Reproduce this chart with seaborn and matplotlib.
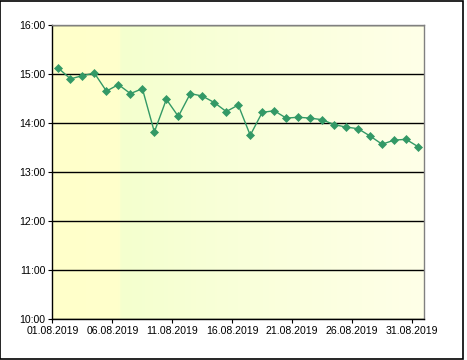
import numpy as np
import pandas as pd
import matplotlib
matplotlib.use("Agg")
import matplotlib.pyplot as plt
import matplotlib.dates as mdates
from matplotlib.colors import LinearSegmentedColormap
from matplotlib.patches import Rectangle
import seaborn as sns

# daily values (HH:MM), 01.08.2019 - 31.08.2019
days = pd.date_range("2019-08-01", "2019-08-31", freq="D")
times = ["15:07", "14:54", "14:58", "15:01", "14:39", "14:47", "14:36", "14:42",
         "13:49", "14:29", "14:08", "14:36", "14:33", "14:25", "14:14", "14:22",
         "13:45", "14:13", "14:15", "14:06", "14:07", "14:06", "14:04", "13:58",
         "13:55", "13:53", "13:44", "13:34", "13:39", "13:40", "13:31"]
x_tick_dates = ["2019-08-01", "2019-08-06", "2019-08-11", "2019-08-16",
                "2019-08-21", "2019-08-26", "2019-08-31"]
y_ticks = [10, 11, 12, 13, 14, 15, 16]

hours = [int(t.split(":")[0]) + int(t.split(":")[1]) / 60 for t in times]
df = pd.DataFrame({"date": days + pd.Timedelta(hours=12), "value": hours})

sns.set_style("white")
plt.rcParams["font.family"] = ["Liberation Sans", "DejaVu Sans"]

fig = plt.figure(figsize=(4.67, 3.6), dpi=100)
ax = fig.add_axes([0.1124, 0.1139, 0.7956, 0.8167])

x0 = mdates.date2num(pd.Timestamp("2019-08-01"))
x1 = mdates.date2num(pd.Timestamp("2019-09-01"))

# background gradient of the plot area
bg = LinearSegmentedColormap.from_list("bg", [
    (0.0, "#FFFFCA"), (0.18, "#FFFFCC"), (0.185, "#F4FFCE"),
    (0.5, "#F9FFD9"), (1.0, "#FFFFE8")])
ax.imshow(np.linspace(0, 1, 256).reshape(1, -1), cmap=bg, aspect="auto",
          extent=(x0, x1, 10, 16), zorder=0)

sns.lineplot(data=df, x="date", y="value", ax=ax, color="#339966",
             linewidth=1.0, marker="D", markersize=4.5, markeredgewidth=0.5,
             markeredgecolor="#339966", zorder=3)

ax.set_xlim(x0, x1)
ax.set_ylim(10, 16)
ax.set_yticks(y_ticks)
ax.set_yticklabels([f"{h}:00" for h in y_ticks])
ax.set_xticks(mdates.date2num(pd.to_datetime(x_tick_dates)))
ax.xaxis.set_major_formatter(mdates.DateFormatter("%d.%m.%Y"))
ax.set_xlabel("")
ax.set_ylabel("")

ax.yaxis.grid(True, color="black", linewidth=1.0)
ax.xaxis.grid(False)
ax.set_axisbelow("line")

ax.tick_params(axis="both", direction="out", length=3, width=0.8, color="black",
               labelsize=7.6, labelcolor="black", pad=2,
               left=True, bottom=True)
for s in ["left", "bottom"]:
    ax.spines[s].set_color("black")
    ax.spines[s].set_linewidth(1.0)
for s in ["top", "right"]:
    ax.spines[s].set_color("#808080")
    ax.spines[s].set_linewidth(1.0)
for s in ax.spines.values():
    s.set_zorder(2.6)

# frame around the whole chart
fig.patches.append(Rectangle((0.001, 0.003), 0.990, 0.995, transform=fig.transFigure,
                             fill=False, edgecolor="black", linewidth=1.2))

fig.savefig("out.png", dpi=100, facecolor="white")
